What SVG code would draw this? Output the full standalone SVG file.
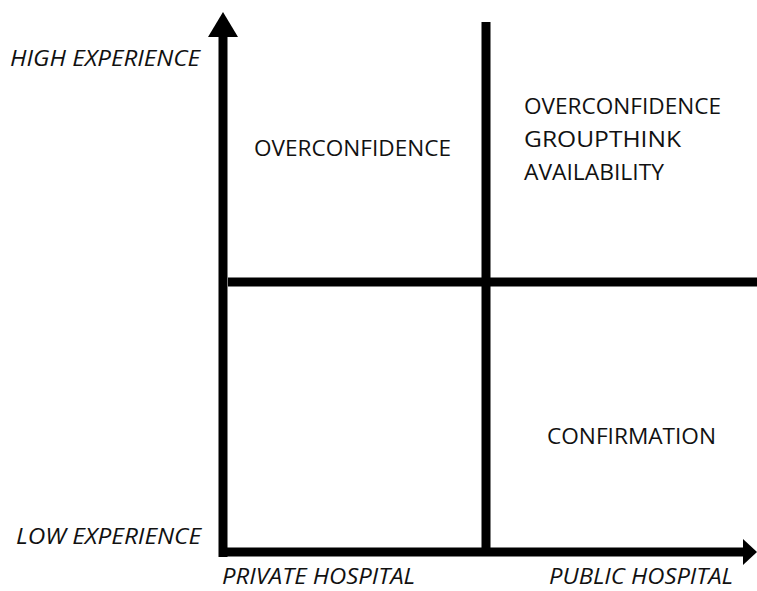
<svg xmlns="http://www.w3.org/2000/svg" width="757" height="591" viewBox="0 0 757 591">
<style>
.t{font-family:"Open Sans","Liberation Sans",sans-serif;font-size:22px;fill:#111}
.i{font-style:italic}
.ln{stroke:#000;stroke-width:9;fill:none}
</style>
<rect width="757" height="591" fill="#fff"/>
<g id="connectors">
<line class="ln" x1="223" y1="36" x2="223" y2="557"/>
<polygon points="223,12 208,37 238,37" fill="#000"/>
<line class="ln" x1="219" y1="552" x2="744" y2="552"/>
<polygon points="757,552 743,539 743,565" fill="#000"/>
<line class="ln" x1="486" y1="22" x2="486" y2="556"/>
<line class="ln" x1="228" y1="282" x2="757" y2="282"/>
</g>
<g id="axis-labels">
<text class="t i" x="10" y="66" textLength="190" lengthAdjust="spacingAndGlyphs">HIGH EXPERIENCE</text>
<text class="t i" x="16" y="544" textLength="185" lengthAdjust="spacingAndGlyphs">LOW EXPERIENCE</text>
<text class="t i" x="222" y="584" textLength="193" lengthAdjust="spacingAndGlyphs">PRIVATE HOSPITAL</text>
<text class="t i" x="549" y="584" textLength="184" lengthAdjust="spacingAndGlyphs">PUBLIC HOSPITAL</text>
</g>
<g id="q1"><text class="t" x="254" y="156" textLength="197" lengthAdjust="spacingAndGlyphs">OVERCONFIDENCE</text></g>
<g id="q2">
<text class="t" x="524" y="114" textLength="197" lengthAdjust="spacingAndGlyphs">OVERCONFIDENCE</text>
<text class="t" x="524" y="147" textLength="157" lengthAdjust="spacingAndGlyphs">GROUPTHINK</text>
<text class="t" x="524" y="180" textLength="140" lengthAdjust="spacingAndGlyphs">AVAILABILITY</text>
</g>
<g id="q4"><text class="t" x="547" y="444" textLength="169" lengthAdjust="spacingAndGlyphs">CONFIRMATION</text></g>
</svg>
